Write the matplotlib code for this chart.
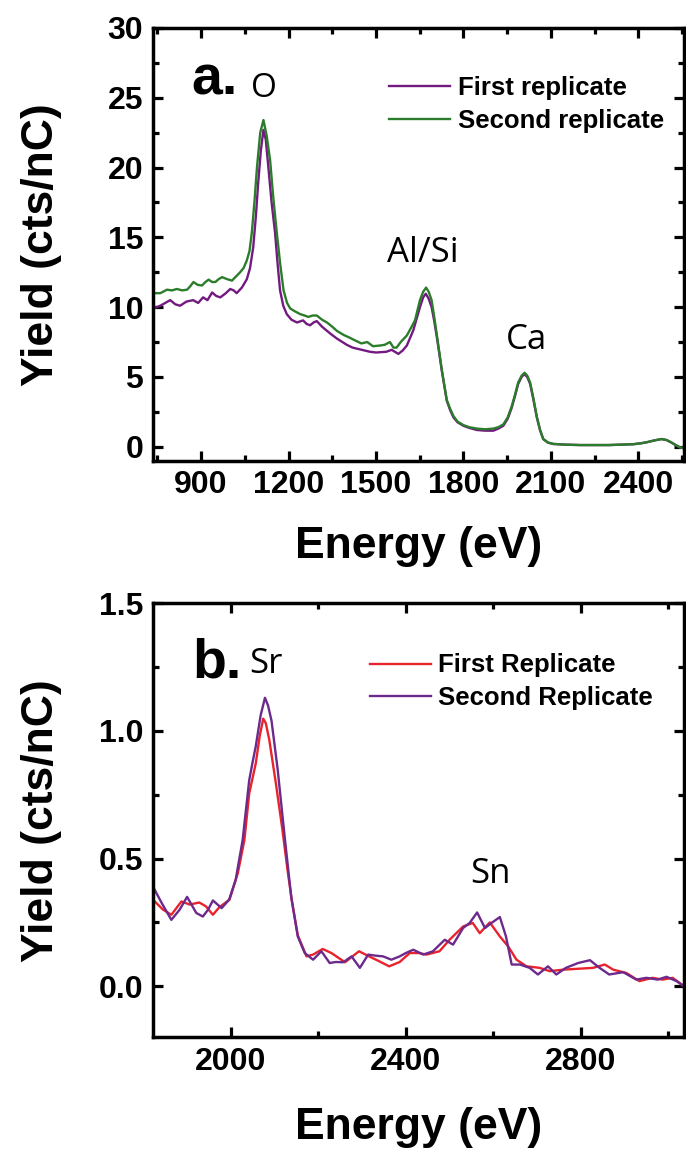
import numpy as np
import matplotlib
matplotlib.use('Agg')
import matplotlib.pyplot as plt
from matplotlib.ticker import MultipleLocator

# ---- panel a: light elements ----
e_a1 = [735, 760, 794, 812, 828, 850, 873, 890, 907, 922, 938, 952, 966, 985, 1000, 1012, 1022, 1040,
        1057, 1068, 1079, 1088, 1096, 1105, 1114, 1122, 1131, 1142, 1154, 1163, 1171, 1182, 1194, 1210,
        1229, 1250, 1262, 1274, 1286, 1297, 1315, 1332, 1350, 1366, 1385, 1400, 1420, 1440, 1460, 1480,
        1500, 1514, 1535, 1554, 1577, 1592, 1606, 1628, 1640, 1651, 1662, 1671, 1681, 1691, 1700, 1709,
        1726, 1743, 1755, 1766, 1780, 1800, 1820, 1846, 1875, 1903, 1920, 1937, 1952, 1966, 1978, 1988,
        2000, 2009, 2019, 2029, 2040, 2052, 2063, 2074, 2090, 2108, 2150, 2200, 2300, 2383, 2410, 2429,
        2455, 2480, 2497, 2514, 2530, 2543, 2557]
y_a1 = [9.9, 10.1, 10.5, 10.2, 10.1, 10.4, 10.5, 10.3, 10.7, 10.5, 11.05, 10.8, 10.7, 11.0, 11.3, 11.2, 11.0, 11.4,
        12.0, 12.8, 14.3, 16.5, 18.9, 21.2, 22.7, 22.0, 20.0, 17.5, 15.3, 13.0, 11.2, 10.1, 9.5, 9.1,
        8.9, 9.05, 8.8, 8.7, 8.9, 9.0, 8.6, 8.3, 8.0, 7.75, 7.5, 7.3, 7.1, 7.0, 6.9, 6.8,
        6.75, 6.77, 6.8, 6.94, 6.65, 6.9, 7.25, 8.33, 9.2, 10.0, 10.7, 10.96, 10.6, 10.0, 9.0, 7.85,
        5.46, 3.3, 2.6, 2.1, 1.75, 1.5, 1.35, 1.2, 1.15, 1.15, 1.3, 1.5, 2.0, 2.8, 3.7, 4.5,
        5.0, 5.2, 5.0, 4.5, 3.4, 2.1, 1.2, 0.55, 0.3, 0.2, 0.15, 0.12, 0.12, 0.18, 0.25, 0.32,
        0.45, 0.55, 0.48, 0.3, 0.1, -0.05, -0.1]

e_a2 = [735, 760, 783, 800, 817, 835, 852, 863, 874, 888, 903, 915, 926, 938, 949, 960, 972, 990, 1006,
        1020, 1034, 1046, 1057, 1066, 1074, 1083, 1092, 1103, 1114, 1125, 1137, 1148, 1160, 1172, 1183,
        1195, 1206, 1222, 1240, 1255, 1268, 1283, 1297, 1315, 1332, 1350, 1366, 1390, 1411, 1430, 1450,
        1470, 1490, 1514, 1530, 1548, 1560, 1571, 1585, 1606, 1620, 1634, 1651, 1662, 1672, 1681, 1691,
        1700, 1709, 1726, 1743, 1755, 1766, 1780, 1800, 1820, 1846, 1875, 1903, 1920, 1937, 1952, 1966,
        1978, 1988, 2000, 2010, 2019, 2029, 2040, 2052, 2063, 2074, 2090, 2108, 2150, 2200, 2300, 2383,
        2410, 2429, 2455, 2480, 2497, 2514, 2530, 2543, 2557]
y_a2 = [11.0, 11.0, 11.25, 11.2, 11.3, 11.2, 11.25, 11.5, 11.8, 11.6, 11.55, 11.8, 11.97, 11.8, 11.8, 12.0, 12.15, 12.0, 11.9,
        12.2, 12.5, 12.8, 13.35, 14.0, 15.3, 17.5, 20.05, 22.5, 23.4, 22.3, 20.5, 17.8, 15.3, 13.0, 11.2,
        10.3, 9.9, 9.7, 9.5, 9.4, 9.3, 9.4, 9.4, 9.1, 8.9, 8.6, 8.3, 8.0, 7.8, 7.6, 7.4,
        7.5, 7.2, 7.25, 7.3, 7.5, 7.1, 7.1, 7.5, 7.97, 8.5, 9.05, 10.5, 11.1, 11.4, 11.1, 10.5,
        9.3, 8.0, 5.5, 3.35, 2.7, 2.2, 1.8, 1.55, 1.4, 1.3, 1.25, 1.3, 1.4, 1.6, 2.1, 2.9,
        3.8, 4.6, 5.1, 5.3, 5.1, 4.6, 3.5, 2.15, 1.2, 0.55, 0.3, 0.2, 0.15, 0.12, 0.12, 0.18,
        0.25, 0.32, 0.45, 0.55, 0.48, 0.3, 0.1, -0.05, -0.1]

# ---- panel b: heavier elements ----
e_b1 = [1822, 1845, 1864, 1887, 1906, 1928, 1943, 1959, 1974, 1997, 2016, 2031, 2042, 2057, 2066, 2074,
        2080, 2088, 2103, 2118, 2130, 2140, 2153, 2173, 2188, 2210, 2230, 2261, 2293, 2316, 2339, 2362,
        2386, 2409, 2430, 2447, 2477, 2500, 2531, 2553, 2569, 2592, 2615, 2634, 2653, 2676, 2706, 2729,
        2760, 2790, 2828, 2855, 2874, 2904, 2934, 2964, 2987, 3010, 3036]
y_b1 = [0.339, 0.30, 0.28, 0.332, 0.32, 0.328, 0.313, 0.28, 0.31, 0.339, 0.443, 0.573, 0.755, 0.873, 0.98, 1.048,
        1.03, 0.964, 0.794, 0.612, 0.45, 0.33, 0.2, 0.117, 0.124, 0.146, 0.13, 0.094, 0.137, 0.117, 0.098, 0.078,
        0.095, 0.13, 0.13, 0.124, 0.137, 0.182, 0.234, 0.248, 0.208, 0.25, 0.195, 0.156, 0.104, 0.078, 0.072, 0.059,
        0.065, 0.068, 0.072, 0.085, 0.065, 0.052, 0.02, 0.033, 0.026, 0.033, 0.0]

e_b2 = [1822, 1842, 1864, 1883, 1900, 1921, 1936, 1948, 1959, 1979, 1996, 2011, 2027, 2042, 2050, 2057,
        2068, 2078, 2085, 2093, 2107, 2123, 2138, 2153, 2169, 2188, 2207, 2226, 2240, 2257, 2276, 2295,
        2314, 2330, 2348, 2367, 2386, 2400, 2417, 2440, 2462, 2489, 2508, 2531, 2546, 2563, 2581, 2596,
        2615, 2629, 2642, 2661, 2683, 2702, 2725, 2744, 2766, 2794, 2821, 2843, 2865, 2897, 2927, 2950,
        2976, 2996, 3019, 3036]
y_b2 = [0.39, 0.326, 0.26, 0.30, 0.35, 0.287, 0.273, 0.30, 0.336, 0.306, 0.339, 0.417, 0.573, 0.807, 0.88, 0.94,
        1.06, 1.13, 1.10, 1.04, 0.85, 0.586, 0.35, 0.195, 0.13, 0.104, 0.137, 0.091, 0.095, 0.094, 0.117, 0.072,
        0.124, 0.12, 0.117, 0.104, 0.117, 0.13, 0.143, 0.124, 0.137, 0.182, 0.163, 0.228, 0.248, 0.289, 0.228, 0.248,
        0.271, 0.195, 0.085, 0.085, 0.072, 0.046, 0.078, 0.046, 0.072, 0.091, 0.102, 0.072, 0.046, 0.055, 0.026, 0.033,
        0.026, 0.037, 0.02, 0.0]

bold = 'Liberation Sans'
thin = 'Open Sans'

plt.rcParams.update({'font.family': bold, 'font.weight': 'bold',
                     'axes.linewidth': 2.5,
                     'lines.solid_joinstyle': 'round'})

fig = plt.figure(figsize=(6.86, 11.5), dpi=100)
ax1 = fig.add_axes([0.2230, 0.5994, 0.7741, 0.3763])
ax2 = fig.add_axes([0.2230, 0.0980, 0.7741, 0.3774])


def style_axis(ax):
    ax.tick_params(which='both', direction='in', top=True, right=True, width=2.3)
    ax.tick_params(which='major', length=7, labelsize=23, pad=7)
    ax.tick_params(which='minor', length=4)
    for lab in ax.get_xticklabels() + ax.get_yticklabels():
        lab.set_fontweight('bold')
    ax.set_ylabel('Yield (cts/nC)', fontsize=32, fontweight='bold')
    ax.set_xlabel('Energy (eV)', fontsize=32, fontweight='bold')
    ax.yaxis.set_label_coords(-0.172, 0.5)


leg_font = {'family': bold, 'weight': 'bold', 'size': 18.5}

ax1.plot(e_a1, y_a1, color='#731a80', lw=1.7, label='First replicate')
ax1.plot(e_a2, y_a2, color='#2b7d2b', lw=1.7, label='Second replicate')
ax1.set_xlim(735, 2557)
ax1.set_ylim(-1, 30)
ax1.xaxis.set_major_locator(MultipleLocator(300))
ax1.xaxis.set_minor_locator(MultipleLocator(150))
ax1.yaxis.set_major_locator(MultipleLocator(5))
ax1.yaxis.set_minor_locator(MultipleLocator(2.5))
style_axis(ax1)
ax1.xaxis.set_label_coords(0.5, -0.15)
ax1.legend(loc='upper left', bbox_to_anchor=(0.426, 0.912), frameon=False, prop=leg_font,
           handlelength=2.35, handletextpad=0.3, labelspacing=0.32, borderaxespad=0)
ax1.text(868, 25.2, 'a.', fontsize=40, fontweight='bold', ha='left', va='baseline')
ax1.text(1117, 25.05, 'O', family=thin, fontweight='normal', fontsize=24, ha='center', va='baseline')
ax1.text(1662, 13.2, 'Al/Si', family=thin, fontweight='normal', fontsize=25, ha='center', va='baseline')
ax1.text(2015, 7.0, 'Ca', family=thin, fontweight='normal', fontsize=25, ha='center', va='baseline')

ax2.plot(e_b1, y_b1, color='#e8232b', lw=1.7, label='First Replicate')
ax2.plot(e_b2, y_b2, color='#6c2a8c', lw=1.7, label='Second Replicate')
ax2.set_xlim(1822, 3036)
ax2.set_ylim(-0.2, 1.5)
ax2.xaxis.set_major_locator(MultipleLocator(400))
ax2.xaxis.set_minor_locator(MultipleLocator(200))
ax2.yaxis.set_major_locator(MultipleLocator(0.5))
ax2.yaxis.set_minor_locator(MultipleLocator(0.25))
ax2.yaxis.set_major_formatter(matplotlib.ticker.FormatStrFormatter('%.1f'))
style_axis(ax2)
ax2.xaxis.set_label_coords(0.5, -0.16)
ax2.legend(loc='upper left', bbox_to_anchor=(0.39, 0.908), frameon=False, prop=leg_font,
           handlelength=2.35, handletextpad=0.3, labelspacing=0.32, borderaxespad=0)
ax2.text(1913, 1.211, 'b.', fontsize=40, fontweight='bold', ha='left', va='baseline')
ax2.text(2080, 1.225, 'Sr', family=thin, fontweight='normal', fontsize=25, ha='center', va='baseline')
ax2.text(2594, 0.404, 'Sn', family=thin, fontweight='normal', fontsize=25, ha='center', va='baseline')

fig.savefig('out.png', dpi=100)
